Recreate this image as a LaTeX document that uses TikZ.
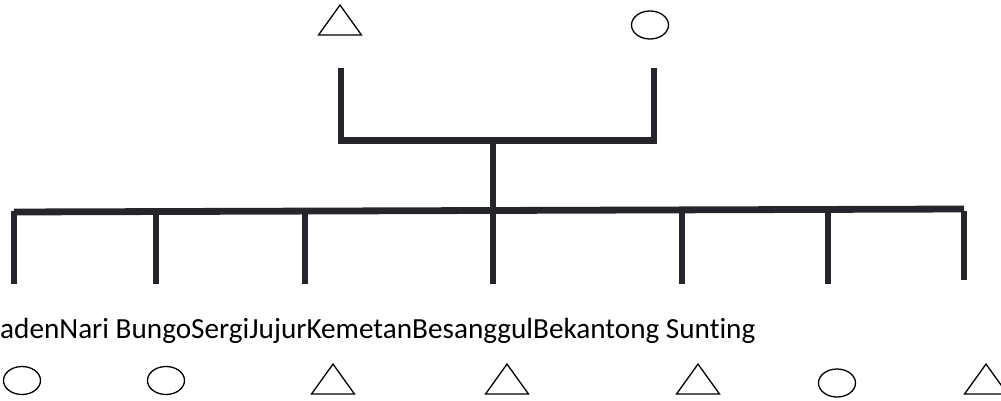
\documentclass[tikz,border=0pt]{standalone}
\usepackage{fontspec}
\setmainfont[Ligatures=NoCommon]{Carlito}
\usepackage{tikz}
\usetikzlibrary{shapes.geometric, positioning}
\definecolor{kinline}{HTML}{25262B}

\begin{document}
\begin{tikzpicture}[
  x=1pt, y=-1pt,
  male/.style={draw, isosceles triangle, isosceles triangle stretches, shape border rotate=90,
    minimum width=43pt, minimum height=30pt, inner sep=0pt, line width=1.3pt},
  female/.style={draw, ellipse, minimum width=37pt, minimum height=28pt, inner sep=0pt, line width=1.3pt},
  kin/.style={draw=kinline, line width=6.8pt},
  names/.style={font=\fontsize{29.2}{35}\selectfont, inner sep=0pt, anchor=base west}
]
\clip (0,0) rectangle (1001,401);

% parents
\node[male] (father) at (340,24) {};
\node[female] (mother) at (650,25) {};
\coordinate (fa) at (341,68);
\coordinate (mo) at (654,68);
\coordinate (mid) at (493,140.5);
\draw[kin] (fa) -- (fa |- mid) -- (mo |- mid) -- (mo);

% siblings bar
\coordinate (sibL) at (14,212);
\coordinate (sibR) at (964,209);
\draw[kin] (mid) -- (493,210.5);
\draw[kin] (sibL) -- (sibR);
\foreach \x/\e [count=\i] in {14/284, 156/284, 305/284, 493/284, 682/284, 828/284, 964/280} {
  \coordinate (top\i) at (\x,210.5);
  \coordinate (bot\i) at (\x,\e);
  \draw[kin] (top\i) -- (bot\i);
}

% names
\node[names] (kids) at (0,338) {adenNari BungoSergiJujurKemetanBesanggulBekantong Sunting};

% children
\node[female] (c1) at (22,380.5) {};
\node[female] (c2) at (166,380.5) {};
\node[male] (c3) at (333,383) {};
\node[male] (c4) at (507,383) {};
\node[male] (c5) at (698,383) {};
\node[female] (c6) at (837,383) {};
\node[male] (c7) at (986,383) {};
\end{tikzpicture}
\end{document}
